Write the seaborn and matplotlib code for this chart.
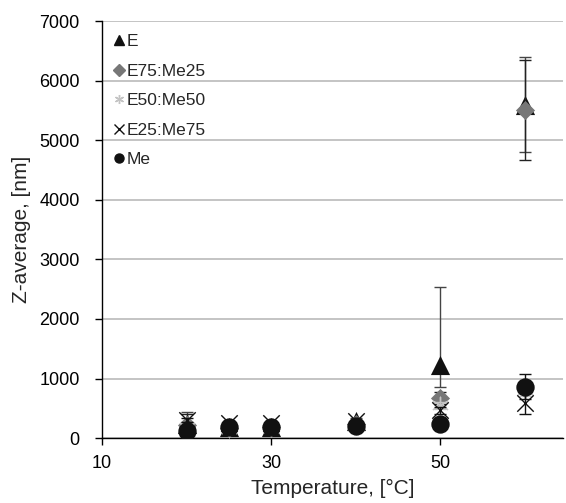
import matplotlib
matplotlib.use("Agg")
import matplotlib.pyplot as plt
from matplotlib.lines import Line2D
import pandas as pd
import seaborn as sns

# Temperatures measured
temps = [20, 25, 30, 40, 50, 60]

# Z-average per formulation [nm]
z_e = [230, 180, 190, 290, 1220, 5600]
z_e75 = [220, 170, 185, 230, 680, 5510]
z_e50 = [180, 160, 170, 210, 550, 800]
z_e25 = [300, 260, 260, 280, 470, 590]
z_me = [120, 180, 190, 200, 230, 860]

# error bars (lower, upper)
err_e_lo = [200, 30, 30, 40, 360, 800]
err_e_hi = [200, 30, 30, 40, 1320, 800]
err_e75 = [190, 30, 30, 30, 100, 840]
err_e50 = [30, 30, 30, 30, 60, 100]
err_e25 = [30, 30, 30, 30, 60, 190]
err_me = [20, 20, 20, 20, 30, 210]

series_names = ["E", "E75:Me25", "E50:Me50", "E25:Me75", "Me"]

sns.set_style("white")
plt.rcParams["font.family"] = ["Liberation Sans", "DejaVu Sans"]

fig, ax = plt.subplots(figsize=(5.66, 5.03), dpi=100)
fig.subplots_adjust(left=0.18, right=0.995, top=0.958, bottom=0.129)

# style of each series: marker, colour, size, error bar colour
styles = {
    "E": dict(marker="^", color="#111111", s=190, ecol="#444444"),
    "E75:Me25": dict(marker="D", color="#777777", s=95, ecol="#222222"),
    "E50:Me50": dict(marker=(6, 2, 0), color="#c4c4c4", s=140, ecol="#c4c4c4"),
    "E25:Me75": dict(marker="x", color="#111111", s=140, ecol="#111111"),
    "Me": dict(marker="o", color="#111111", s=175, ecol="#111111"),
}

values = {"E": z_e, "E75:Me25": z_e75, "E50:Me50": z_e50,
          "E25:Me75": z_e25, "Me": z_me}
errors = {"E": [err_e_lo, err_e_hi], "E75:Me25": [err_e75, err_e75],
          "E50:Me50": [err_e50, err_e50], "E25:Me75": [err_e25, err_e25],
          "Me": [err_me, err_me]}

for i, name in enumerate(series_names):
    st = styles[name]
    df = pd.DataFrame({"T": temps, "Z": values[name]})
    ax.errorbar(df["T"], df["Z"], yerr=errors[name], fmt="none",
                ecolor=st["ecol"], elinewidth=1.0, capsize=4, capthick=1.0,
                zorder=2 + i * 2)
    lw = 1.0 if name in ("E25:Me75", "E50:Me50") else 0
    sns.scatterplot(data=df, x="T", y="Z", ax=ax, marker=st["marker"],
                    color=st["color"], s=st["s"], linewidth=lw,
                    edgecolor=st["color"], zorder=3 + i * 2, legend=False)

ax.set_xlim(10, 64.5)
ax.set_ylim(0, 7000)
ax.set_xticks([10, 30, 50])
ax.set_yticks(range(0, 7001, 1000))
ax.yaxis.grid(True, color="#b4b4b4", linewidth=1.1)
ax.xaxis.grid(False)
ax.set_axisbelow(True)

for side in ("top", "right"):
    ax.spines[side].set_visible(False)
for side in ("left", "bottom"):
    ax.spines[side].set_color("black")
    ax.spines[side].set_linewidth(1.0)

ax.tick_params(axis="both", direction="out", length=5, width=1.0,
               colors="black", labelsize=13, left=True, bottom=True)
ax.tick_params(axis="x", pad=7)
ax.tick_params(axis="y", pad=11)

ax.set_xlabel("Temperature, [°C]", fontsize=15, labelpad=5)
ax.set_ylabel("Z-average, [nm]", fontsize=15, labelpad=6)

handles = []
for name in series_names:
    st = styles[name]
    handles.append(Line2D([], [], linestyle="none", marker=st["marker"],
                          color=st["color"], markersize=6.5,
                          markeredgewidth=1.0, label=name))
ax.legend(handles=handles, loc="upper left", frameon=False, fontsize=12.5,
          handlelength=0.4, handletextpad=0.2, labelspacing=0.82,
          borderaxespad=0.0, bbox_to_anchor=(0.015, 0.985))

fig.savefig("out.png", dpi=100)
